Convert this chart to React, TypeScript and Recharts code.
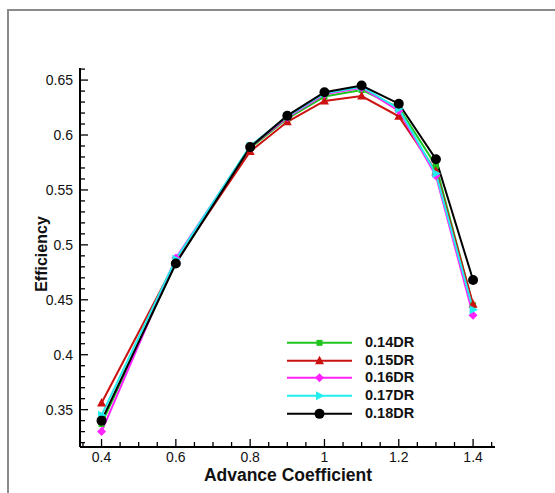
import React from "react";
import { LineChart, Line, XAxis, YAxis } from "recharts";

// advance coefficient J
const advance = [0.4, 0.6, 0.8, 0.9, 1.0, 1.1, 1.2, 1.3, 1.4];

// efficiency for each diameter ratio
const dr014 = [0.337, 0.484, 0.588, 0.615, 0.635, 0.641, 0.625, 0.572, 0.445];
const dr015 = [0.356, 0.485, 0.585, 0.612, 0.631, 0.6355, 0.617, 0.567, 0.446];
const dr016 = [0.33, 0.488, 0.589, 0.616, 0.637, 0.643, 0.622, 0.563, 0.436];
const dr017 = [0.345, 0.487, 0.59, 0.617, 0.638, 0.644, 0.624, 0.565, 0.441];
const dr018 = [0.34, 0.483, 0.589, 0.6176, 0.639, 0.645, 0.6285, 0.578, 0.468];

// minor ticks every 0.05 on x and 0.01 on y, labels on the major ones
const xTicks: number[] = [];
for (let i = 7; i <= 29; i++) xTicks.push(+(i * 0.05).toFixed(2));
const yTicks: number[] = [];
for (let i = 32; i <= 66; i++) yTicks.push(+(i * 0.01).toFixed(2));

const data = advance.map((j, i) => ({
  j,
  dr014: dr014[i],
  dr015: dr015[i],
  dr016: dr016[i],
  dr017: dr017[i],
  dr018: dr018[i],
}));

type MarkerKind = "square" | "triangle" | "diamond" | "arrow" | "circle";

const series: { key: string; name: string; color: string; marker: MarkerKind }[] = [
  { key: "dr014", name: "0.14DR", color: "#1fc41f", marker: "square" },
  { key: "dr015", name: "0.15DR", color: "#cc1111", marker: "triangle" },
  { key: "dr016", name: "0.16DR", color: "#ff22ff", marker: "diamond" },
  { key: "dr017", name: "0.17DR", color: "#22eeee", marker: "arrow" },
  { key: "dr018", name: "0.18DR", color: "#000000", marker: "circle" },
];

const FONT = "'Liberation Sans', Arial, sans-serif";

function Marker({ kind, cx, cy, color }: { kind: MarkerKind; cx: number; cy: number; color: string }) {
  switch (kind) {
    case "square":
      return <rect x={cx - 3} y={cy - 3} width={6} height={6} fill={color} />;
    case "triangle":
      return <polygon points={`${cx},${cy - 5} ${cx - 4.5},${cy + 3.5} ${cx + 4.5},${cy + 3.5}`} fill={color} />;
    case "diamond":
      return <polygon points={`${cx},${cy - 4.5} ${cx + 4.5},${cy} ${cx},${cy + 4.5} ${cx - 4.5},${cy}`} fill={color} />;
    case "arrow":
      return <polygon points={`${cx + 5},${cy} ${cx - 3.5},${cy - 4.5} ${cx - 3.5},${cy + 4.5}`} fill={color} />;
    default:
      return <circle cx={cx} cy={cy} r={5} fill={color} />;
  }
}

const isMultiple = (v: number, step: number) => Math.abs(v / step - Math.round(v / step)) < 1e-6;

function XTick(props: any) {
  const { x, y, payload } = props;
  const major = isMultiple(payload.value, 0.2);
  return (
    <g>
      <line x1={x} x2={x} y1={y} y2={y - (major ? 8 : 5)} stroke="#000" strokeWidth={1.3} />
      {major && (
        <text x={x} y={y + 15} textAnchor="middle" fontSize={14} fontFamily={FONT} fill="#111">
          {String(+payload.value.toFixed(1))}
        </text>
      )}
    </g>
  );
}

function YTick(props: any) {
  const { x, y, payload } = props;
  const major = isMultiple(payload.value, 0.05);
  return (
    <g>
      <line x1={x} x2={x + (major ? 8 : 5)} y1={y} y2={y} stroke="#000" strokeWidth={1.3} />
      {major && (
        <text x={x - 7} y={y + 5} textAnchor="end" fontSize={14} fontFamily={FONT} fill="#111">
          {String(+payload.value.toFixed(2))}
        </text>
      )}
    </g>
  );
}

export default function App() {
  return (
    <div style={{ position: "absolute", left: 0, top: 0, width: 555, height: 493, background: "#fff" }}>
      {/* frame */}
      <div
        style={{
          position: "absolute",
          left: 7,
          top: 9,
          width: 548,
          height: 484,
          borderLeft: "2px solid #8a8a8a",
          borderTop: "2px solid #8a8a8a",
          boxSizing: "border-box",
        }}
      />
      <LineChart
        width={555}
        height={493}
        data={data}
        margin={{ top: 68, right: 60, bottom: 16, left: 20 }}
        style={{ position: "absolute", left: 0, top: 0 }}
      >
        <XAxis
          dataKey="j"
          type="number"
          domain={[0.342, 1.459]}
          allowDataOverflow
          ticks={xTicks}
          interval={0}
          height={30}
          tickSize={0}
          tickMargin={0}
          tickLine={false}
          tick={<XTick />}
          axisLine={{ stroke: "#000", strokeWidth: 2 }}
        />
        <YAxis
          type="number"
          domain={[0.316, 0.661]}
          allowDataOverflow
          ticks={yTicks}
          interval={0}
          width={60}
          tickSize={0}
          tickMargin={0}
          tickLine={false}
          tick={<YTick />}
          axisLine={{ stroke: "#000", strokeWidth: 2 }}
        />
        {series.map((s) => (
          <Line
            key={s.key}
            dataKey={s.key}
            name={s.name}
            stroke={s.color}
            strokeWidth={2}
            isAnimationActive={false}
            dot={(p: any) => <Marker key={`${s.key}-${p.index}`} kind={s.marker} cx={p.cx} cy={p.cy} color={s.color} />}
            activeDot={false}
          />
        ))}
      </LineChart>

      {/* legend */}
      <div style={{ position: "absolute", left: 287, top: 334, fontFamily: FONT }}>
        {series.map((s) => (
          <div key={s.key} style={{ display: "flex", alignItems: "center", height: 17.7 }}>
            <svg width={65} height={17.7} style={{ display: "block" }}>
              <line x1={0} x2={65} y1={8.85} y2={8.85} stroke={s.color} strokeWidth={2} />
              <Marker kind={s.marker} cx={32.5} cy={8.85} color={s.color} />
            </svg>
            <span style={{ marginLeft: 13, fontSize: 14.5, fontWeight: "bold", color: "#111", lineHeight: "17.7px" }}>
              {s.name}
            </span>
          </div>
        ))}
      </div>

      {/* axis titles */}
      <div
        style={{
          position: "absolute",
          left: 188,
          top: 466,
          width: 200,
          textAlign: "center",
          fontFamily: FONT,
          fontWeight: "bold",
          fontSize: 17.5,
          lineHeight: "18px",
          color: "#111",
        }}
      >
        Advance Coefficient
      </div>
      <div
        style={{
          position: "absolute",
          left: -18,
          top: 245,
          width: 120,
          textAlign: "center",
          fontFamily: FONT,
          fontWeight: "bold",
          fontSize: 16,
          lineHeight: "18px",
          color: "#111",
          transform: "rotate(-90deg)",
        }}
      >
        Efficiency
      </div>
    </div>
  );
}
